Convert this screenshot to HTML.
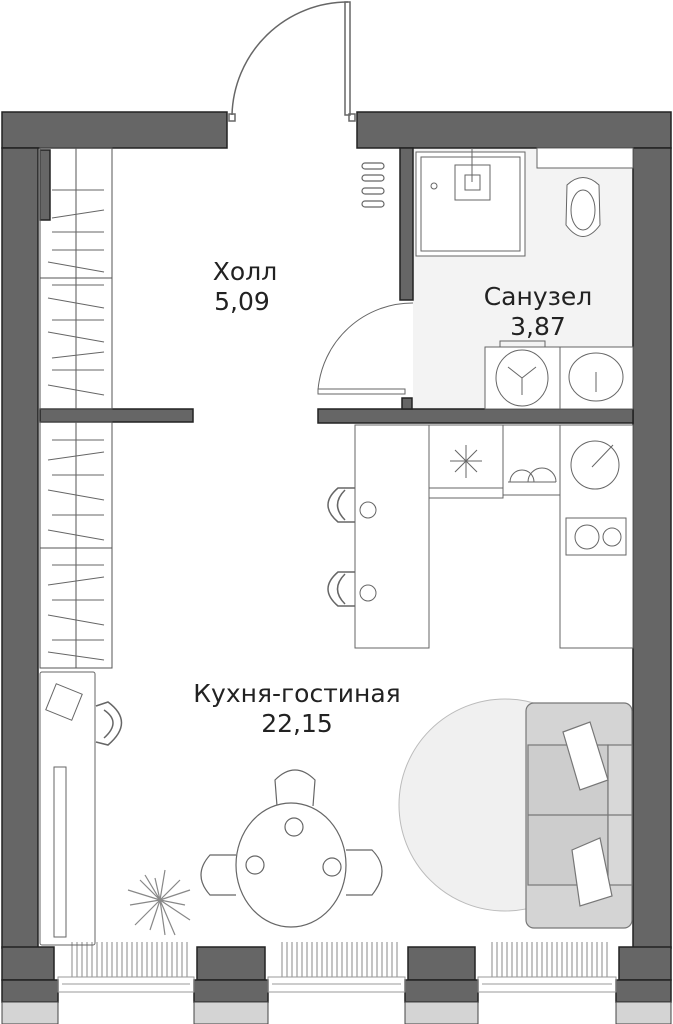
<!DOCTYPE html>
<html><head><meta charset="utf-8"><style>
html,body{margin:0;padding:0;background:#fff}
svg{display:block}
text{font-family:"DejaVu Sans","Liberation Sans",sans-serif;fill:#222}
</style></head><body>
<svg width="673" height="1024" viewBox="0 0 673 1024" xmlns="http://www.w3.org/2000/svg">
<defs>
<pattern id="rad" width="5" height="40" patternUnits="userSpaceOnUse"><line x1="2" y1="0" x2="2" y2="40" stroke="#888" stroke-width="1"/></pattern>
</defs>
<rect x="413" y="148" width="220" height="261" fill="#f3f3f3"/>
<g fill="#666" stroke="#222" stroke-width="1.5">
<rect x="2" y="112" width="225" height="36"/>
<rect x="357" y="112" width="314" height="36"/>
<rect x="2" y="148" width="36" height="800"/>
<rect x="633" y="148" width="38" height="800"/>
<rect x="40" y="409" width="153" height="13"/>
<rect x="318" y="409" width="315" height="14"/>
<rect x="400" y="148" width="13" height="152"/>
<rect x="40" y="150" width="10" height="70"/>
<rect x="402" y="398" width="10" height="11"/>
<rect x="2" y="947" width="52" height="33"/><rect x="2" y="980" width="56" height="22"/>
<rect x="197" y="947" width="68" height="33"/><rect x="194" y="980" width="74" height="22"/>
<rect x="408" y="947" width="67" height="33"/><rect x="405" y="980" width="73" height="22"/>
<rect x="619" y="947" width="52" height="33"/><rect x="616" y="980" width="55" height="22"/>
</g>
<g fill="#d4d4d4" stroke="#444" stroke-width="1">
<rect x="2" y="1002" width="56" height="22"/><rect x="194" y="1002" width="74" height="22"/>
<rect x="405" y="1002" width="73" height="22"/><rect x="616" y="1002" width="55" height="22"/>
</g>
<rect x="70" y="942" width="120" height="35" fill="url(#rad)"/>
<rect x="281" y="942" width="118" height="35" fill="url(#rad)"/>
<rect x="490" y="942" width="118" height="35" fill="url(#rad)"/>
<g fill="none" stroke="#999" stroke-width="1">
<rect x="58" y="977" width="136" height="15"/><line x1="62" y1="984" x2="190" y2="984"/>
<rect x="268" y="977" width="137" height="15"/><line x1="272" y1="984" x2="401" y2="984"/>
<rect x="478" y="977" width="138" height="15"/><line x1="482" y1="984" x2="612" y2="984"/>
</g>
<g fill="none" stroke="#666" stroke-width="1.5">
<path d="M232 115 A116 116 0 0 1 348 2"/>
<rect x="345" y="2" width="5" height="113"/>
<rect x="229" y="114" width="6" height="7"/><rect x="349" y="114" width="6" height="7"/>
</g>
<g fill="none" stroke="#555" stroke-width="1">
<rect x="40" y="148" width="72" height="261"/>
<line x1="76" y1="148" x2="76" y2="409"/>
<line x1="40" y1="278" x2="112" y2="278"/>
<rect x="40" y="422" width="72" height="246"/>
<line x1="76" y1="422" x2="76" y2="668"/>
<line x1="40" y1="548" x2="112" y2="548"/>
</g>
<g stroke="#666" stroke-width="1">
<line x1="52" y1="190" x2="104" y2="190"/><line x1="52" y1="218" x2="104" y2="210"/><line x1="52" y1="232" x2="104" y2="232"/>
<line x1="52" y1="250" x2="104" y2="250"/><line x1="48" y1="262" x2="104" y2="272"/><line x1="52" y1="285" x2="104" y2="285"/>
<line x1="48" y1="298" x2="104" y2="308"/><line x1="52" y1="320" x2="104" y2="320"/><line x1="48" y1="332" x2="104" y2="342"/>
<line x1="52" y1="358" x2="104" y2="352"/><line x1="52" y1="370" x2="104" y2="370"/><line x1="48" y1="385" x2="104" y2="395"/>
<line x1="52" y1="440" x2="104" y2="440"/><line x1="48" y1="460" x2="104" y2="452"/><line x1="52" y1="475" x2="104" y2="475"/>
<line x1="48" y1="490" x2="104" y2="500"/><line x1="52" y1="515" x2="104" y2="515"/><line x1="48" y1="530" x2="104" y2="540"/>
<line x1="52" y1="565" x2="104" y2="565"/><line x1="48" y1="585" x2="104" y2="577"/><line x1="52" y1="600" x2="104" y2="600"/>
<line x1="48" y1="615" x2="104" y2="625"/><line x1="52" y1="640" x2="104" y2="640"/><line x1="48" y1="652" x2="104" y2="660"/>
</g>
<g fill="none" stroke="#666" stroke-width="1.2">
<rect x="362" y="163" width="22" height="6" rx="3"/><rect x="362" y="175" width="22" height="6" rx="3"/>
<rect x="362" y="188" width="22" height="6" rx="3"/><rect x="362" y="201" width="22" height="6" rx="3"/>
</g>
<g fill="none" stroke="#666" stroke-width="1">
<rect x="416" y="152" width="109" height="104" fill="#fff"/>
<rect x="421" y="157" width="99" height="94"/>
<rect x="455" y="165" width="35" height="35"/><rect x="465" y="175" width="15" height="15"/>
<line x1="472" y1="148" x2="472" y2="182"/>
<circle cx="434" cy="186" r="3"/>
<rect x="537" y="148" width="96" height="20" fill="#fff"/>
<path d="M567 185 Q583 170 599 185 L600 225 Q583 248 566 225 Z" fill="#fff"/>
<ellipse cx="583" cy="210" rx="12" ry="20"/>
<path d="M318 390 A95 95 0 0 1 413 303"/>
<rect x="318" y="389" width="87" height="5"/>
<rect x="485" y="347" width="75" height="62" fill="#fff"/><rect x="500" y="341" width="45" height="6"/>
<ellipse cx="522" cy="378" rx="26" ry="28"/>
<path d="M522 378 L522 395 M522 378 L508 367 M522 378 L536 367"/>
<rect x="560" y="347" width="73" height="62" fill="#fff"/>
<ellipse cx="596" cy="377" rx="27" ry="24"/>
<line x1="596" y1="372" x2="596" y2="392"/>
</g>
<g fill="#fff" stroke="#666" stroke-width="1">
<rect x="355" y="425" width="74" height="223"/>
<rect x="429" y="425" width="74" height="63"/><rect x="429" y="488" width="74" height="10"/>
<rect x="503" y="425" width="57" height="70"/><line x1="503" y1="495" x2="560" y2="495"/>
<rect x="560" y="425" width="73" height="223"/>
<rect x="566" y="518" width="60" height="37"/>
<circle cx="587" cy="537" r="12"/><circle cx="612" cy="537" r="9"/>
<circle cx="595" cy="465" r="24"/>
</g>
<g stroke="#666" stroke-width="1" fill="none">
<path d="M466 445 L466 478 M450 461 L482 461 M455 450 L477 472 M477 450 L455 472"/>
<path d="M510 482 A12 12 0 0 1 534 482 M528 482 A14 14 0 0 1 556 482 M508 482 L556 482"/>
<line x1="592" y1="467" x2="613" y2="445"/>
<path d="M355 488 L338 488 Q318 505 338 522 L355 522 M345 490 Q330 505 345 520" stroke-width="1.5"/>
<path d="M355 572 L338 572 Q318 589 338 606 L355 606 M345 574 Q330 589 345 604" stroke-width="1.5"/>
<circle cx="368" cy="510" r="8"/><circle cx="368" cy="593" r="8"/>
</g>
<g fill="none" stroke="#666" stroke-width="1">
<rect x="40" y="672" width="55" height="273" rx="2"/>
<rect x="54" y="767" width="12" height="170"/>
<rect x="50" y="688" width="28" height="28" transform="rotate(22 64 702)"/>
<path d="M96 706 L108 702 Q135 722 108 745 L96 742 M104 710 Q122 722 104 738" stroke-width="1.5"/>
</g>
<circle cx="505" cy="805" r="106" fill="#f0f0f0" stroke="#bbb"/>
<g stroke="#777" stroke-width="1.2">
<rect x="526" y="703" width="106" height="225" rx="8" fill="#d4d4d4"/>
<rect x="528" y="745" width="80" height="140" fill="#cdcdcd"/>
<rect x="608" y="745" width="24" height="140" fill="#d8d8d8"/>
<line x1="528" y1="815" x2="632" y2="815"/>
<path d="M563 732 L590 722 L608 780 L580 790 Z" fill="#fff"/>
<path d="M572 850 L600 838 L612 896 L580 906 Z" fill="#fff"/>
</g>
<g fill="#fff" stroke="#666" stroke-width="1.2">
<path d="M277 806 L275 780 Q295 760 315 780 L313 806" />
<path d="M236 855 L210 855 Q192 875 210 895 L236 895"/>
<path d="M346 850 L372 850 Q392 870 372 895 L346 895"/>
<ellipse cx="291" cy="865" rx="55" ry="62"/>
<circle cx="294" cy="827" r="9"/><circle cx="255" cy="865" r="9"/><circle cx="332" cy="867" r="9"/>
</g>
<g stroke="#888" stroke-width="1.2">
<path d="M160 900 L140 880 M160 900 L130 905 M160 900 L150 930 M160 900 L175 935 M160 900 L190 920 M160 900 L190 890 M160 900 L165 870 M160 900 L145 875 M160 900 L135 925 M160 900 L185 905 M160 900 L155 878 M160 900 L180 880 M160 900 L128 890 M160 900 L165 935"/>
</g>
<text x="245" y="280" font-size="25" text-anchor="middle">Холл</text>
<text x="242" y="310" font-size="25" text-anchor="middle">5,09</text>
<text x="538" y="305" font-size="25" text-anchor="middle">Санузел</text>
<text x="538" y="335" font-size="25" text-anchor="middle">3,87</text>
<text x="297" y="702" font-size="25" text-anchor="middle">Кухня-гостиная</text>
<text x="297" y="732" font-size="25" text-anchor="middle">22,15</text>
</svg>
</body></html>
